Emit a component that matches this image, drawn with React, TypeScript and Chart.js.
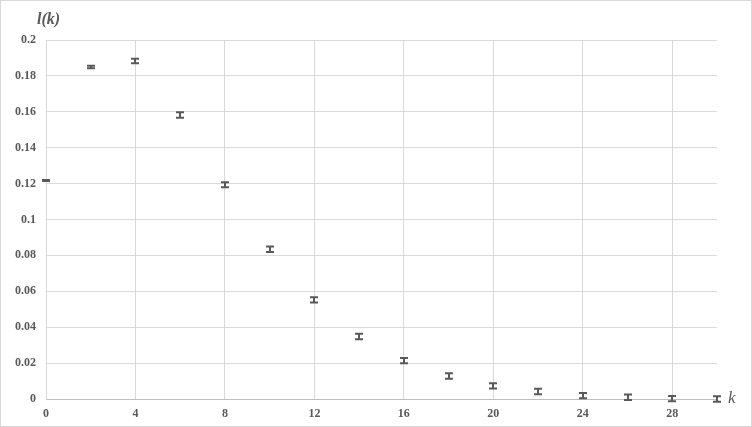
import React, { useEffect, useRef } from 'react';
import { Chart, registerables } from 'chart.js';

Chart.register(...registerables);

const kValues = [0, 2, 4, 6, 8, 10, 12, 14, 16, 18, 20, 22, 24, 26, 28, 30];
const lValues = [0.1217, 0.185, 0.1883, 0.1582, 0.1193, 0.0834, 0.0552, 0.0348, 0.0214, 0.0128, 0.0073, 0.0042, 0.0019, 0.001, 0.0002, 0.0];
const lErrors = [0.0003, 0.0007, 0.0013, 0.0015, 0.0014, 0.0015, 0.0015, 0.0015, 0.0015, 0.0015, 0.0015, 0.0015, 0.0015, 0.0015, 0.0015, 0.0015];
const xTicks = [0, 4, 8, 12, 16, 20, 24, 28];
const yTicks = [0, 0.02, 0.04, 0.06, 0.08, 0.1, 0.12, 0.14, 0.16, 0.18, 0.2];
const yTickLabels = ['0', '0.02', '0.04', '0.06', '0.08', '0.1', '0.12', '0.14', '0.16', '0.18', '0.2'];
const yTitle = 'l(k)';
const xTitle = 'k';

const TEXT = '#595959';
const GRID = '#d9d9d9';
const SERIF = '"Liberation Serif", "Times New Roman", serif';

const frameAndErrorBars = {
  id: 'frameAndErrorBars',
  beforeDraw(chart: any) {
    const { ctx, width, height } = chart;
    ctx.save();
    ctx.fillStyle = '#ffffff';
    ctx.fillRect(0, 0, width, height);
    ctx.strokeStyle = GRID;
    ctx.lineWidth = 1;
    ctx.strokeRect(0.5, 0.5, width - 1, height - 1);
    ctx.restore();
  },
  afterDatasetsDraw(chart: any) {
    const { ctx } = chart;
    const x = chart.scales.x;
    const y = chart.scales.y;
    ctx.save();
    ctx.strokeStyle = '#595959';
    ctx.lineWidth = 2;
    kValues.forEach((k, i) => {
      const px = Math.round(x.getPixelForValue(k));
      const top = y.getPixelForValue(lValues[i] + lErrors[i]);
      const bot = y.getPixelForValue(lValues[i] - lErrors[i]);
      ctx.beginPath();
      ctx.moveTo(px, top);
      ctx.lineTo(px, bot);
      ctx.moveTo(px - 4, top);
      ctx.lineTo(px + 4, top);
      ctx.moveTo(px - 4, bot);
      ctx.lineTo(px + 4, bot);
      ctx.stroke();
    });
    ctx.restore();
  },
  afterDraw(chart: any) {
    const { ctx } = chart;
    const y = chart.scales.y;
    const x = chart.scales.x;
    ctx.save();
    ctx.fillStyle = TEXT;
    ctx.textAlign = 'left';
    ctx.textBaseline = 'alphabetic';
    ctx.font = `italic bold 16px ${SERIF}`;
    ctx.fillText(yTitle, 37, 24);
    ctx.font = `italic 17px ${SERIF}`;
    ctx.textBaseline = 'middle';
    ctx.fillText(xTitle, x.right + 11, y.bottom);
    ctx.restore();
  },
};

export default function App() {
  const ref = useRef<HTMLCanvasElement | null>(null);

  useEffect(() => {
    document.body.style.margin = '0';
    if (!ref.current) return;
    const chart = new Chart(ref.current, {
      type: 'scatter',
      data: {
        datasets: [
          {
            data: kValues.map((k, i) => ({ x: k, y: lValues[i] })),
            pointRadius: 0,
            pointHoverRadius: 0,
            showLine: false,
          },
        ],
      },
      options: {
        responsive: false,
        animation: false,
        devicePixelRatio: 1,
        layout: { padding: { top: 40, right: 35, left: 0, bottom: 0 } },
        plugins: {
          legend: { display: false },
          tooltip: { enabled: false },
        },
        scales: {
          x: {
            type: 'linear',
            position: 'bottom',
            min: 0,
            max: 30,
            afterBuildTicks: (s: any) => {
              s.ticks = xTicks.map((v) => ({ value: v }));
            },
            afterFit: (s: any) => {
              s.height = 28;
            },
            grid: { color: GRID, lineWidth: 1, drawTicks: false },
            border: { color: '#bfbfbf', width: 1 },
            ticks: {
              color: TEXT,
              padding: 8,
              maxRotation: 0,
              font: { family: SERIF, size: 12, weight: 'bold' },
              callback: (v: any) => String(v),
            },
          },
          y: {
            type: 'linear',
            min: 0,
            max: 0.2,
            afterBuildTicks: (s: any) => {
              s.ticks = yTicks.map((v) => ({ value: v }));
            },
            afterFit: (s: any) => {
              s.width = 46;
            },
            grid: { color: GRID, lineWidth: 1, drawTicks: false },
            border: { color: GRID, width: 1 },
            ticks: {
              color: TEXT,
              padding: 10,
              font: { family: SERIF, size: 12, weight: 'bold' },
              callback: (_v: any, i: number) => yTickLabels[i],
            },
          },
        },
      },
      plugins: [frameAndErrorBars],
    } as any);
    return () => chart.destroy();
  }, []);

  return <canvas ref={ref} width={752} height={427} style={{ display: 'block' }} />;
}
